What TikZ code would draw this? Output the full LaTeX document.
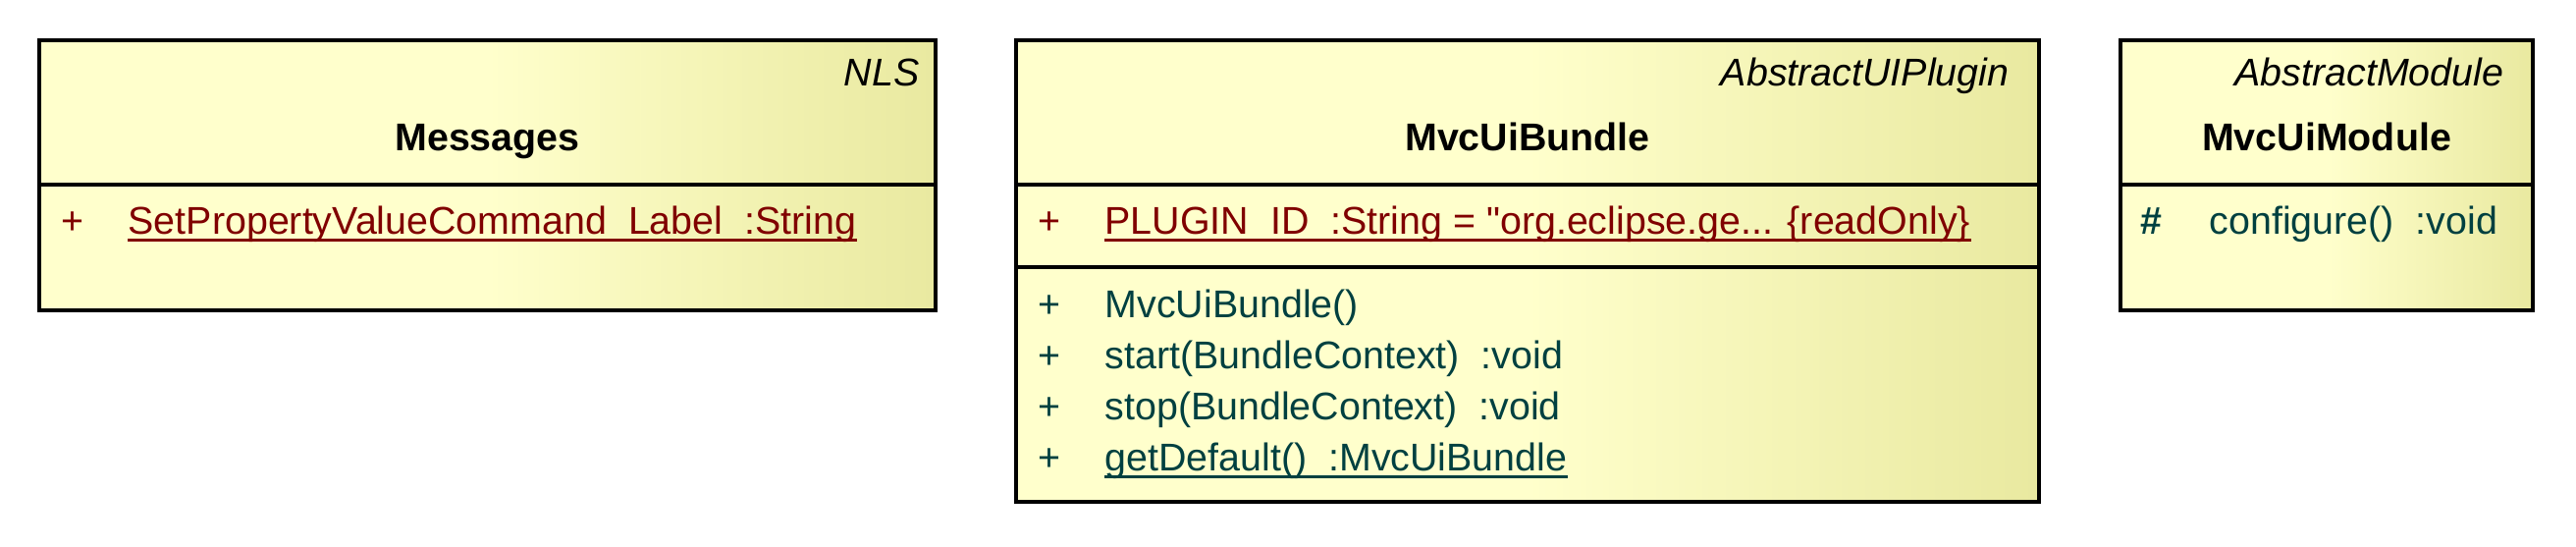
\documentclass[tikz,border=0pt]{standalone}
\usepackage{fontspec}
\setmainfont{Liberation Sans}[Ligatures=TeXOff]
\usepackage{xcolor}
\usepackage{tikz}
\usetikzlibrary{positioning}
\definecolor{classlite}{RGB}{255,255,204}
\definecolor{classdark}{RGB}{233,233,160}
\definecolor{attrred}{RGB}{128,0,0}
\definecolor{operteal}{RGB}{0,64,64}
\pgfdeclarehorizontalshading{classfill}{100bp}{color(0bp)=(classlite); color(50bp)=(classlite); color(75bp)=(classdark); color(100bp)=(classdark)}
\tikzset{
    classbox/.style={
        draw=black,
        line width=0.9pt,
        shading=classfill
    },
    divider/.style={
        draw=black,
        line width=0.9pt
    },
    umltext/.style={
        inner sep=0pt,
        font=\fontsize{11.2pt}{13pt}\selectfont
    },
    stereotype/.style={
        umltext,
        anchor=base east,
        font=\fontsize{11.2pt}{13pt}\selectfont\itshape
    },
    classname/.style={
        umltext,
        anchor=base,
        font=\fontsize{11.2pt}{13pt}\selectfont\bfseries
    },
    visib/.style={
        umltext,
        anchor=base west
    },
    attrtext/.style={
        umltext,
        anchor=base west,
        text=attrred
    },
    opertext/.style={
        umltext,
        anchor=base west,
        text=operteal
    },
    uline/.style={
        line width=0.7pt
    }
}

\begin{document}
\begin{tikzpicture}[x=0.01cm, y=-0.01cm]

\useasboundingbox (0,0) rectangle (2624,556);

% Messages
\path[classbox] (40,41) rectangle (953,316);
\draw[divider] (40,188) -- (953,188);
\node[stereotype] (msgst) at (937,87) {NLS};
\node[classname] (msgname) at (496.5,153) {Messages};
\node[visib, text=attrred] (msgv1) at (62,238) {+};
\node[attrtext] (msga1) at (130,238) {SetPropertyValueCommand\_Label\ \ :String};
\draw[uline, attrred] ([yshift=-1.9pt]msga1.base west) -- ([yshift=-1.9pt]msga1.base east);

% MvcUiBundle
\path[classbox] (1035,41) rectangle (2077,511);
\draw[divider] (1035,188) -- (2077,188);
\draw[divider] (1035,272) -- (2077,272);
\node[stereotype] (bunst) at (2047,87) {AbstractUIPlugin};
\node[classname] (bunname) at (1556,153) {MvcUiBundle};
\node[visib, text=attrred] (bunv1) at (1057,238) {+};
\node[attrtext] (buna1) at (1125,238) {PLUGIN\_ID\ \ :String = "org.eclipse.ge... \{readOnly\}};
\draw[uline, attrred] ([yshift=-1.9pt]buna1.base west) -- ([yshift=-1.9pt]buna1.base east);
\node[visib, text=operteal] (bunv2) at (1057,323) {+};
\node[opertext] (bunm1) at (1125,323) {MvcUiBundle()};
\node[visib, text=operteal] (bunv3) at (1057,375) {+};
\node[opertext] (bunm2) at (1125,375) {start(BundleContext)\ \ :void};
\node[visib, text=operteal] (bunv4) at (1057,427) {+};
\node[opertext] (bunm3) at (1125,427) {stop(BundleContext)\ \ :void};
\node[visib, text=operteal] (bunv5) at (1057,479) {+};
\node[opertext] (bunm4) at (1125,479) {getDefault()\ \ :MvcUiBundle};
\draw[uline, operteal] ([yshift=-1.9pt]bunm4.base west) -- ([yshift=-1.9pt]bunm4.base east);

% MvcUiModule
\path[classbox] (2160,41) rectangle (2580,316);
\draw[divider] (2160,188) -- (2580,188);
\node[stereotype] (modst) at (2551,87) {AbstractModule};
\node[classname] (modname) at (2370,153) {MvcUiModule};
\node[visib, text=operteal, font=\fontsize{11.2pt}{13pt}\selectfont\bfseries] (modv1) at (2180,238) {\#};
\node[opertext] (modm1) at (2250,238) {configure()\ \ :void};

\end{tikzpicture}
\end{document}
